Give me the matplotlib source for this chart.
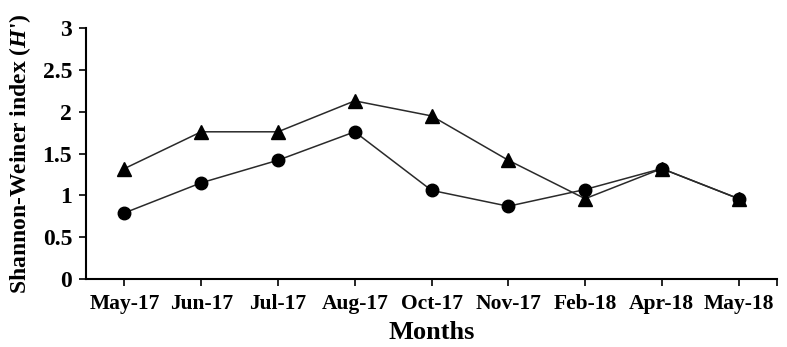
import matplotlib
matplotlib.use("Agg")
import matplotlib.pyplot as plt
from matplotlib.ticker import FixedLocator

months = ["May-17", "Jun-17", "Jul-17", "Aug-17", "Oct-17", "Nov-17", "Feb-18", "Apr-18", "May-18"]
triangle_series = [1.32, 1.76, 1.76, 2.13, 1.95, 1.42, 0.96, 1.32, 0.96]
circle_series = [0.79, 1.15, 1.42, 1.76, 1.06, 0.87, 1.07, 1.32, 0.96]
yticks = [0, 0.5, 1, 1.5, 2, 2.5, 3]
ytick_labels = ["0", "0.5", "1", "1.5", "2", "2.5", "3"]

plt.rcParams['font.family'] = ['Liberation Serif', 'DejaVu Serif']
plt.rcParams['font.weight'] = 'bold'
plt.rcParams['mathtext.fontset'] = 'custom'
plt.rcParams['mathtext.it'] = 'Liberation Serif:italic:bold'
plt.rcParams['mathtext.rm'] = 'Liberation Serif:bold'

fig = plt.figure(figsize=(7.87, 3.47), dpi=100)
ax = fig.add_axes([0.1093, 0.196, 0.878, 0.723])

x = list(range(len(months)))
ax.plot(x, triangle_series, color='#2a2a2a', lw=1.1, marker='^', ms=9.5, mfc='black', mec='black')
ax.plot(x, circle_series, color='#2a2a2a', lw=1.1, marker='o', ms=9, mfc='black', mec='black')

ax.set_xlim(-0.5, len(months) - 0.5)
ax.set_ylim(0, 3)
ax.set_yticks(yticks)
ax.set_yticklabels(ytick_labels, fontsize=17, fontweight='bold')
ax.set_xticks(x)
ax.set_xticklabels(months, fontsize=15.5, fontweight='bold')
ax.xaxis.set_minor_locator(FixedLocator([len(months) - 0.5]))
ax.tick_params(axis='x', which='both', direction='out', length=5, width=1.2, pad=6)
ax.tick_params(axis='y', direction='out', length=5, width=1.2, pad=5)

for s in ['top', 'right']:
    ax.spines[s].set_visible(False)
for s in ['left', 'bottom']:
    ax.spines[s].set_linewidth(1.5)

ax.set_xlabel("Months", fontsize=19, fontweight='bold', labelpad=5)
ax.set_ylabel(r"Shannon-Weiner index ($\mathit{H}$')", fontsize=17, fontweight='bold', labelpad=7)

fig.savefig("out.png", dpi=100)
